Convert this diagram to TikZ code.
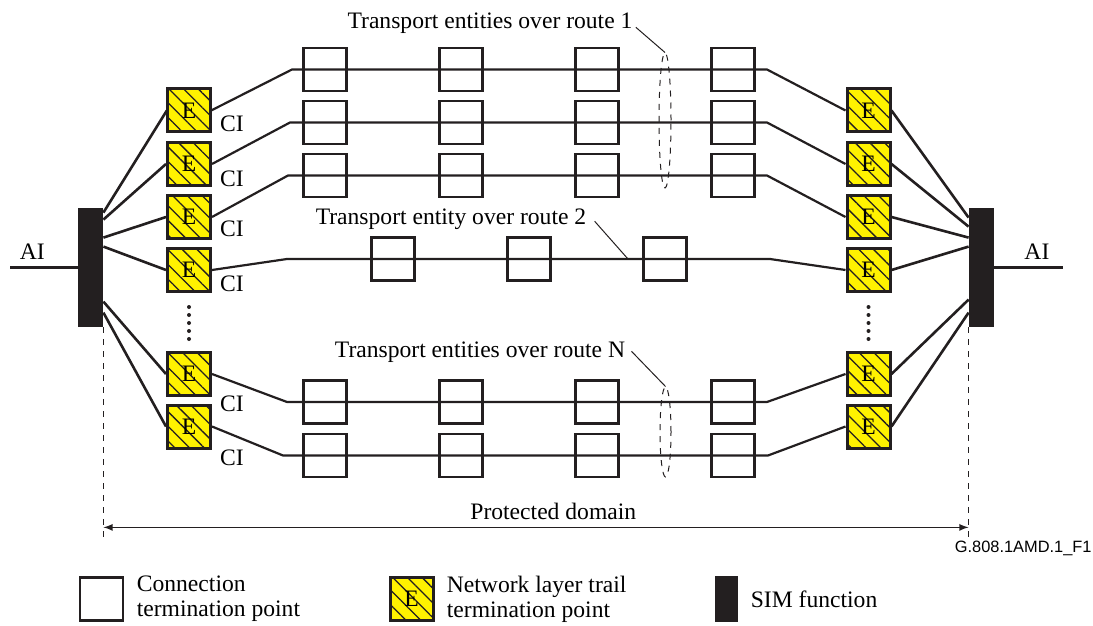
\documentclass[tikz,border=0pt]{standalone}
\usepackage{fontspec}
\setmainfont{Liberation Serif}
\newfontfamily\tagfont{Liberation Sans}
\usetikzlibrary{positioning,calc,arrows,shapes.geometric,patterns.meta}
\definecolor{ink}{HTML}{231F20}
\definecolor{ttpyellow}{HTML}{FFF200}
\tikzset{
ctp/.style={
  draw=ink,
  line width=1.25pt,
  minimum size=21.7pt,
  inner sep=0pt
  },
ttp/.style={
  draw=ink,
  line width=1.5pt,
  minimum size=21.5pt,
  inner sep=0pt,
  preaction={fill=ttpyellow},
  pattern={Lines[angle=-45,distance=5.2pt,line width=0.65pt]},
  pattern color=ink
  },
sim/.style={
  fill=ink,
  minimum width=12.5pt,
  minimum height=59.5pt,
  inner sep=0pt
  },
line/.style={draw=ink, line width=1.3pt}
}

\begin{document}
\begin{tikzpicture}[
    x=0.5pt, y=-0.5pt,
    font=\fontsize{11.8}{12.5}\selectfont,
    route/.style={draw=ink, line width=1.1pt},
    leader/.style={draw=ink, line width=0.5pt},
    group/.style={
      draw=ink,
      dashed,
      line width=0.5pt,
      ellipse,
      inner sep=0pt
      },
    label/.style={inner sep=1pt},
    legtext/.style={align=left, inner sep=0pt},
 >=latex
 ]
\useasboundingbox (0,0) rectangle (1093,626);

% SIM functions
\node[sim] (simL) at (90.5,267.5) {};
\node[sim] (simR) at (981.5,267.5) {};
\coordinate (aiL) at (10,267.5);
\coordinate (aiR) at (1063,267.5);
\draw[line, line width=1.5pt] (aiL) -- node[above, pos=0.33] (aiLt) {AI} (simL.west);
\draw[line, line width=1.5pt] (simR.east) -- node[above, pos=0.62] (aiRt) {AI} (aiR);

% trail termination points
\foreach \y/\cy [count=\i] in {110.5/124,164/179,217/229,270/284,374/404,426.5/458}
{
  \node[ttp] (eL\i) at (189,\y) {E};
  \node[ttp] (eR\i) at (868.5,\y) {E};
  \node (ci\i) at (232,\cy) {CI};
}
\foreach \i/\dl/\dr in {1/5/10,2/12/19,3/30/30,4/39/39,5/94/92,6/105/105}
{
  \draw[line] (eL\i.west) -- ($(simL.north east)+(0,\dl)$);
  \draw[line] (eR\i.east) -- ($(simR.north west)+(0,\dr)$);
}
\foreach \y in {307,315,323,331,339}
{
  \fill[ink] (189,\y) circle (1pt);
  \fill[ink] (868.5,\y) circle (1pt);
}

% routes
\foreach \i/\y/\bl/\br in {1/69.5/292/767,2/122.5/290/767,3/175.5/288/767,4/259/287/770,5/402/287/767,6/455.5/283/768}
{
  \coordinate (bL\i) at (\bl,\y);
  \coordinate (bR\i) at (\br,\y);
  \draw[route] (eL\i.east) -- (bL\i) -- (bR\i) -- (eR\i.west);
}
\foreach \r/\y in {1/69.5,2/122.5,3/175.5,5/402,6/455.5}
{\foreach \x [count=\k] in {325,461,597,733}
  \node[ctp] (c\r-\k) at (\x,\y) {};
}
\foreach \x [count=\k] in {393,529,665}
  \node[ctp] (c4-\k) at (\x,259) {};

\node[group, minimum width=6pt, minimum height=67.5pt] (grp1) at (665,120.5) {};
\node[group, minimum width=5.5pt, minimum height=45pt] (grpN) at (665.5,432) {};
\node[label] (lbl1) at (490,23) {Transport entities over route 1};
\node[label] (lbl2) at (451,219) {Transport entity over route 2};
\node[label] (lblN) at (480,352) {Transport entities over route N};
\coordinate (r2) at (628,259);
\draw[leader] ($(lbl1.base east)+(1,-1)$) -- (grp1.north);
\draw[leader] ($(lbl2.base east)+(6,-3)$) -- (r2);
\draw[leader] ($(lblN.base east)+(4,-6)$) -- (grpN.north);

% protected domain
\coordinate (dL) at ($(simL.south east)+(0,211)$);
\coordinate (dR) at ($(simR.south west)+(0,211)$);
\coordinate (aL) at ($(simL.south east)+(0,200)$);
\coordinate (aR) at ($(simR.south west)+(0,200)$);
\draw[leader, dashed] (simL.south east) -- (dL);
\draw[leader, dashed] (simR.south west) -- (dR);
\draw[<->, draw=ink, line width=0.6pt] (aL) -- node[above, pos=0.52] (pd) {Protected domain} (aR);
\node[anchor=east, inner sep=0pt, font=\tagfont\fontsize{8.2}{10}\selectfont] (tag) at (1092,548) {G.808.1AMD.1\_F1};

% legend
\node[ctp] (lgC) at (101.5,599) {};
\node[legtext, right=6pt of lgC] (lgCt) {Connection\\termination point};
\node[ttp] (lgE) at (411.5,599) {E};
\node[legtext, right=6pt of lgE] (lgEt) {Network layer trail\\termination point};
\node[sim, minimum width=11.5pt, minimum height=23pt] (lgS) at (726.5,599) {};
\node[legtext, right=6pt of lgS] (lgSt) {SIM function};
\end{tikzpicture}
\end{document}
